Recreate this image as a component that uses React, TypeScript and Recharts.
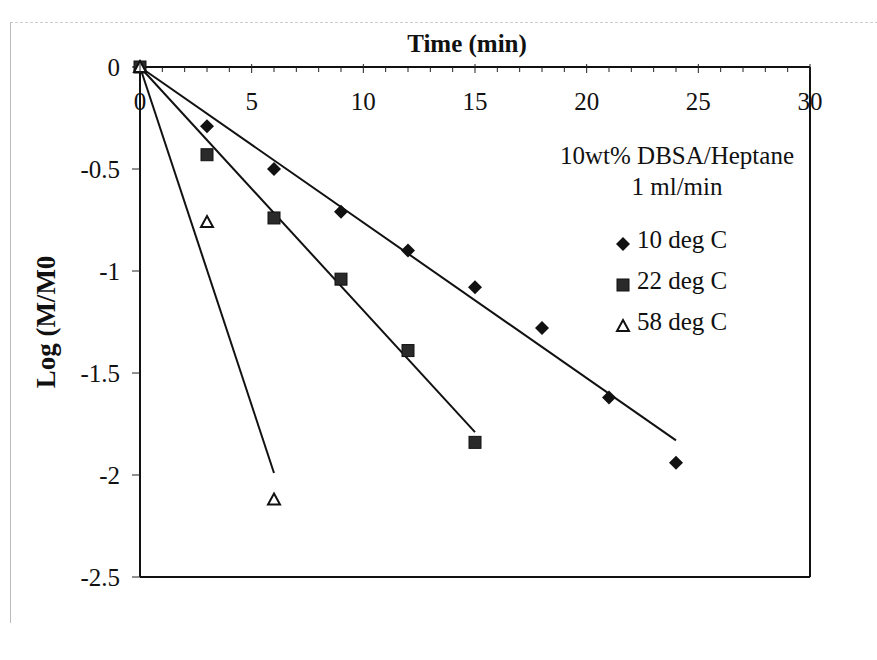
import {
  ComposedChart,
  Scatter,
  XAxis,
  YAxis,
  ReferenceLine,
} from "recharts";

// measured points, Log(M/M0) against time in minutes
const deg10 = [
  { x: 0, y: 0 },
  { x: 3, y: -0.29 },
  { x: 6, y: -0.5 },
  { x: 9, y: -0.71 },
  { x: 12, y: -0.9 },
  { x: 15, y: -1.08 },
  { x: 18, y: -1.28 },
  { x: 21, y: -1.62 },
  { x: 24, y: -1.94 },
];
const deg22 = [
  { x: 0, y: 0 },
  { x: 3, y: -0.43 },
  { x: 6, y: -0.74 },
  { x: 9, y: -1.04 },
  { x: 12, y: -1.39 },
  { x: 15, y: -1.84 },
];
const deg58 = [
  { x: 0, y: 0 },
  { x: 3, y: -0.76 },
  { x: 6, y: -2.12 },
];

// fitted trendlines (end points)
const fit10 = [
  { x: 0, y: 0 },
  { x: 24, y: -1.83 },
];
const fit22 = [
  { x: 0, y: 0 },
  { x: 15, y: -1.79 },
];
const fit58 = [
  { x: 0, y: 0 },
  { x: 6, y: -1.99 },
];

const xTicks = Array.from({ length: 31 }, (_, i) => i);
const yTicks = [0, -0.5, -1, -1.5, -2, -2.5];
const yLabels = ["0", "-0.5", "-1", "-1.5", "-2", "-2.5"];

const legendTitle = ["10wt% DBSA/Heptane", "1 ml/min"];
const seriesNames = ["10 deg C", "22 deg C", "58 deg C"];

const FONT = "'Liberation Serif', 'Times New Roman', serif";

function Diamond({ cx, cy }: any) {
  return (
    <path
      d={`M${cx},${cy - 7}L${cx + 7},${cy}L${cx},${cy + 7}L${cx - 7},${cy}Z`}
      fill="#111"
    />
  );
}

function Square({ cx, cy }: any) {
  return (
    <rect
      x={cx - 6}
      y={cy - 6}
      width={12}
      height={12}
      fill="#2a2a2a"
      stroke="#111"
      strokeWidth={1}
    />
  );
}

function Triangle({ cx, cy }: any) {
  return (
    <path
      d={`M${cx},${cy - 6}L${cx + 6},${cy + 5}L${cx - 6},${cy + 5}Z`}
      fill="#fff"
      stroke="#111"
      strokeWidth={2}
    />
  );
}

const Hidden = () => <g />;

function XTick({ x, y, payload }: any) {
  const v = payload.value;
  const major = v % 5 === 0;
  const top = y - 26;
  return (
    <g>
      <line
        x1={x}
        x2={x}
        y1={major ? top - 3 : top}
        y2={major ? top + 6 : top + 5}
        stroke="#222"
        strokeWidth={1}
      />
      {major && (
        <text
          x={x}
          y={y}
          dy={17}
          textAnchor="middle"
          fontFamily={FONT}
          fontSize={25}
          fill="#111"
        >
          {v}
        </text>
      )}
    </g>
  );
}

function LegendBox() {
  const markers = [Diamond, Square, Triangle];
  return (
    <div
      style={{
        position: "absolute",
        left: 547,
        top: 140,
        width: 260,
        fontFamily: FONT,
        fontSize: 25,
        color: "#111",
        textAlign: "center",
        lineHeight: "31px",
      }}
    >
      {legendTitle.map((t) => (
        <div key={t}>{t}</div>
      ))}
      <div style={{ height: 17 }} />
      {seriesNames.map((name, i) => {
        const M = markers[i];
        return (
          <div
            key={name}
            style={{
              display: "flex",
              alignItems: "center",
              paddingLeft: 67,
              height: 41,
            }}
          >
            <svg width={18} height={18} style={{ marginTop: 8 }}>
              <M cx={9} cy={9} />
            </svg>
            <span style={{ marginLeft: 5 }}>{name}</span>
          </div>
        );
      })}
    </div>
  );
}

export default function App() {
  return (
    <div
      style={{
        position: "absolute",
        left: 0,
        top: 0,
        width: 877,
        height: 660,
        background: "#fff",
      }}
    >
      <div
        style={{
          position: "absolute",
          left: 10,
          top: 22,
          width: 867,
          height: 600,
          borderLeft: "1px solid #bbb",
          borderTop: "1px dashed #ccc",
        }}
      />
      <ComposedChart
        width={877}
        height={660}
        margin={{ top: 67, right: 67, bottom: 83, left: 20 }}
        style={{ position: "absolute", left: 0, top: 0 }}
      >
        <XAxis
          type="number"
          dataKey="x"
          orientation="top"
          mirror
          domain={[0, 30]}
          ticks={xTicks}
          interval={0}
          tickSize={6}
          tickMargin={20}
          tickLine={false}
          tick={<XTick />}
          axisLine={{ stroke: "#111", strokeWidth: 2 }}
          label={{
            value: "Time (min)",
            position: "top",
            offset: 15,
            dx: -8,
            fontFamily: FONT,
            fontSize: 25,
            fontWeight: "bold",
            fill: "#111",
          }}
        />
        <YAxis
          type="number"
          dataKey="y"
          domain={[-2.5, 0]}
          ticks={yTicks}
          interval={0}
          width={120}
          tickSize={8}
          tickMargin={12}
          tickFormatter={(v: number) => yLabels[yTicks.indexOf(v)] ?? String(v)}
          tick={{ fontFamily: FONT, fontSize: 25, fill: "#111" }}
          tickLine={{ stroke: "#222" }}
          axisLine={{ stroke: "#111", strokeWidth: 2 }}
          label={{
            value: "Log (M/M0",
            angle: -90,
            position: "center",
            dx: -35,
            fontFamily: FONT,
            fontSize: 27,
            fontWeight: "bold",
            fill: "#111",
          }}
        />
        <ReferenceLine y={-2.5} stroke="#111" strokeWidth={2} />
        <ReferenceLine x={30} stroke="#111" strokeWidth={2} />
        <Scatter
          data={fit10}
          line={{ stroke: "#111", strokeWidth: 2 }}
          shape={Hidden}
          legendType="none"
          isAnimationActive={false}
        />
        <Scatter
          data={fit22}
          line={{ stroke: "#111", strokeWidth: 2 }}
          shape={Hidden}
          legendType="none"
          isAnimationActive={false}
        />
        <Scatter
          data={fit58}
          line={{ stroke: "#111", strokeWidth: 2 }}
          shape={Hidden}
          legendType="none"
          isAnimationActive={false}
        />
        <Scatter
          name={seriesNames[0]}
          data={deg10}
          shape={Diamond}
          isAnimationActive={false}
        />
        <Scatter
          name={seriesNames[1]}
          data={deg22}
          shape={Square}
          isAnimationActive={false}
        />
        <Scatter
          name={seriesNames[2]}
          data={deg58}
          shape={Triangle}
          isAnimationActive={false}
        />
      </ComposedChart>
      <LegendBox />
    </div>
  );
}
